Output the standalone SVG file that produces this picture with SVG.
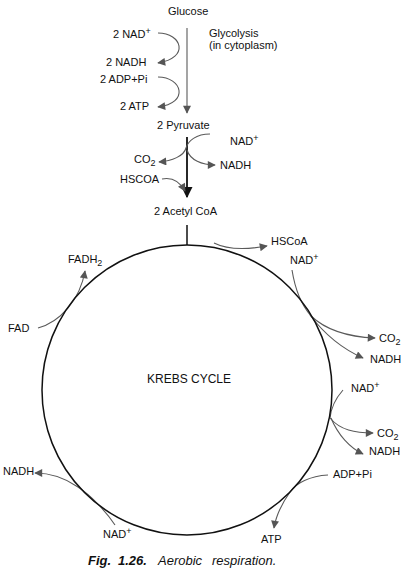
<svg xmlns="http://www.w3.org/2000/svg" width="403" height="573" viewBox="0 0 403 573">
<style>
text{font-family:"Liberation Sans",Arial,sans-serif;font-size:11px;fill:#111}
.k{font-size:12px}
.cap{font-size:13px;font-style:italic}
.b{font-weight:bold}
.c{fill:none;stroke:#5a5a5a;stroke-width:1.1}
.thick{fill:none;stroke:#111;stroke-width:1.8}
.ring{fill:none;stroke:#111;stroke-width:1.5}
</style>
<defs>
<marker id="ah" viewBox="0 0 10 10" refX="9" refY="5" markerWidth="10" markerHeight="8" markerUnits="userSpaceOnUse" orient="auto"><path d="M0,0 L10,5 L0,10 z" fill="#555"/></marker>
<marker id="ahb" viewBox="0 0 10 10" refX="9" refY="5" markerWidth="11" markerHeight="11" markerUnits="userSpaceOnUse" orient="auto"><path d="M0,0 L10,5 L0,10 z" fill="#111"/></marker>
</defs>
<rect width="403" height="573" fill="#fff"/>
<g id="connectors">
<path class="c" d="M187,28 L187,113" marker-end="url(#ah)"/>
<path class="c" d="M158,33 C182,33 190,58 158,63" marker-end="url(#ah)"/>
<path class="c" d="M158,77 C182,77 190,103 158,107" marker-end="url(#ah)"/>
<path class="thick" d="M187,137 L187,197" marker-end="url(#ahb)"/>
<path class="c" d="M210,134 C196,134 188,141 186,148 C184,156 172,161 159,162" marker-end="url(#ah)"/>
<path class="c" d="M187,150 C190,160 202,165 215,165" marker-end="url(#ah)"/>
<path class="c" d="M162,179 C172,177 180,182 185,191" marker-end="url(#ah)"/>
<path class="ring" d="M187,225 L187,245"/>
<path class="c" d="M214,243 C228,250 245,250 267,246" marker-end="url(#ah)"/>
<path class="c" d="M38,328 C60,322 80,300 85,271" marker-end="url(#ah)"/>
<path class="c" d="M292,270 C296,295 304,308 311,316 C328,332 350,337 375,338" marker-end="url(#ah)"/>
<path class="c" d="M310,315 C325,335 345,350 363,358" marker-end="url(#ah)"/>
<path class="c" d="M343,390 C336,398 331,408 330,418 C340,430 355,433 373,433" marker-end="url(#ah)"/>
<path class="c" d="M331,418 C338,435 350,448 363,454" marker-end="url(#ah)"/>
<path class="c" d="M328,475 C310,476 296,483 290,492 C283,502 276,515 274,528" marker-end="url(#ah)"/>
<path class="c" d="M115,525 C105,510 90,495 78,487 C65,478 50,473 35,473" marker-end="url(#ah)"/>
</g>
<g id="krebs-cycle">
<circle class="ring" cx="187" cy="390" r="145"/>
<text class="k" x="147" y="383">KREBS CYCLE</text>
</g>
<g id="glucose"><text x="168" y="15">Glucose</text></g>
<g id="glycolysis"><text x="209" y="37">Glycolysis</text><text x="209" y="49">(in cytoplasm)</text></g>
<g id="nad1"><text x="113" y="38">2 NAD<tspan dy="-4" font-size="9">+</tspan></text></g>
<g id="nadh1"><text x="106" y="66">2 NADH</text></g>
<g id="adp1"><text x="100" y="83">2 ADP+Pi</text></g>
<g id="atp1"><text x="120" y="110">2 ATP</text></g>
<g id="pyruvate"><text x="157" y="129">2 Pyruvate</text></g>
<g id="nad2"><text x="230" y="145">NAD<tspan dy="-4" font-size="9">+</tspan></text></g>
<g id="co2a"><text x="134" y="163">CO<tspan dy="3" font-size="9">2</tspan></text></g>
<g id="nadh2"><text x="220" y="169">NADH</text></g>
<g id="hscoa1"><text x="120" y="183">HSCOA</text></g>
<g id="acetyl"><text x="154" y="215">2 Acetyl CoA</text></g>
<g id="hscoa2"><text x="271" y="245">HSCoA</text></g>
<g id="nad3"><text x="290" y="264">NAD<tspan dy="-4" font-size="9">+</tspan></text></g>
<g id="fadh2"><text x="68" y="263">FADH<tspan dy="3" font-size="9">2</tspan></text></g>
<g id="fad"><text x="8" y="332">FAD</text></g>
<g id="co2b"><text x="379" y="342">CO<tspan dy="3" font-size="9">2</tspan></text></g>
<g id="nadh3"><text x="370" y="363">NADH</text></g>
<g id="nad4"><text x="351" y="392">NAD<tspan dy="-4" font-size="9">+</tspan></text></g>
<g id="co2c"><text x="377" y="437">CO<tspan dy="3" font-size="9">2</tspan></text></g>
<g id="nadh4"><text x="369" y="455">NADH</text></g>
<g id="adp2"><text x="333" y="478">ADP+Pi</text></g>
<g id="atp2"><text x="261" y="543">ATP</text></g>
<g id="nadh5"><text x="3" y="475">NADH</text></g>
<g id="nad5"><text x="103" y="538">NAD<tspan dy="-4" font-size="9">+</tspan></text></g>
<g id="caption">
<text class="cap b" x="88" y="565">Fig.</text>
<text class="cap b" x="118" y="565">1.26.</text>
<text class="cap" x="158" y="565">Aerobic</text>
<text class="cap" x="212" y="565">respiration.</text>
</g>
</svg>
